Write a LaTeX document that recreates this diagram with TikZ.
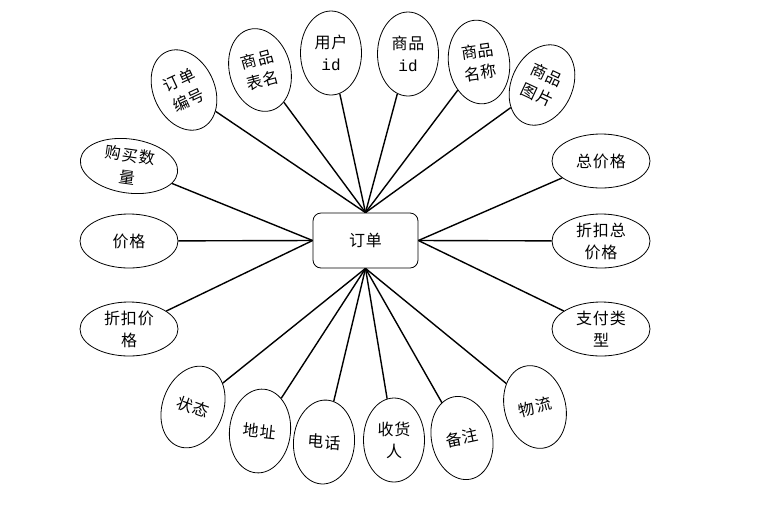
\documentclass[tikz,border=0pt]{standalone}
\usepackage{fontspec}
\newfontfamily\cjk[LetterSpace=6]{Noto Sans CJK SC}
\newfontfamily\monof{Liberation Mono}
\usetikzlibrary{shapes.geometric}
\begin{document}
\begin{tikzpicture}[x=1pt,y=-1pt,
  every node/.style={font=\cjk\fontsize{16}{22}\selectfont},
  vell/.style={draw, line width=0.8pt, ellipse, inner sep=0pt, minimum width=61pt, minimum height=84pt, align=center},
  hell/.style={draw, line width=0.8pt, ellipse, inner sep=0pt, minimum width=98pt, minimum height=54pt, align=center},
  ent/.style={draw, line width=0.8pt, rounded corners=8pt, minimum width=105pt, minimum height=55pt, inner sep=0pt},
  conn/.style={line width=1.4pt}]
\useasboundingbox (0,0) rectangle (783,507);
\node[ent] (od) at (365.5,240.5) {订单};
% top
\node[vell, rotate=25] (a1) at (184,90) {订单\\编号};
\node[vell, rotate=15] (a2) at (260,70) {商品\\表名};
\node[vell] (a3) at (331,53) {用户\\{\monof id}};
\node[vell] (a4) at (408,54) {商品\\{\monof id}};
\node[vell, rotate=8] (a5) at (479,62) {商品\\名称};
\node[vell, rotate=-25] (a6) at (542,85) {商品\\图片};
% left
\node[hell, rotate=-8] (l1) at (129,166) {购买数\\量};
\node[hell] (l2) at (129,241) {价格};
\node[hell] (l3) at (129,329) {折扣价\\格};
% right
\node[hell] (r1) at (601,161) {总价格};
\node[hell] (r2) at (601,241) {折扣总\\价格};
\node[hell] (r3) at (601,329) {支付类\\型};
% bottom
\node[vell, rotate=-20] (b1) at (193,407) {状态};
\node[vell, rotate=-6] (b2) at (260,431) {地址};
\node[vell, rotate=-4] (b3) at (324,442) {电话};
\node[vell] (b4) at (394,440) {收货\\人};
\node[vell, rotate=12] (b5) at (462,438) {备注};
\node[vell, rotate=15] (b6) at (535,407) {物流};
% connectors
\foreach \n in {a1,a2,a3,a4,a5,a6} \draw[conn] (\n) -- (od.north);
\foreach \n in {l1,l2,l3} \draw[conn] (\n) -- (od.west);
\foreach \n in {r1,r2,r3} \draw[conn] (\n) -- (od.east);
\foreach \n in {b1,b2,b3,b4,b5,b6} \draw[conn] (\n) -- (od.south);
\end{tikzpicture}
\end{document}
